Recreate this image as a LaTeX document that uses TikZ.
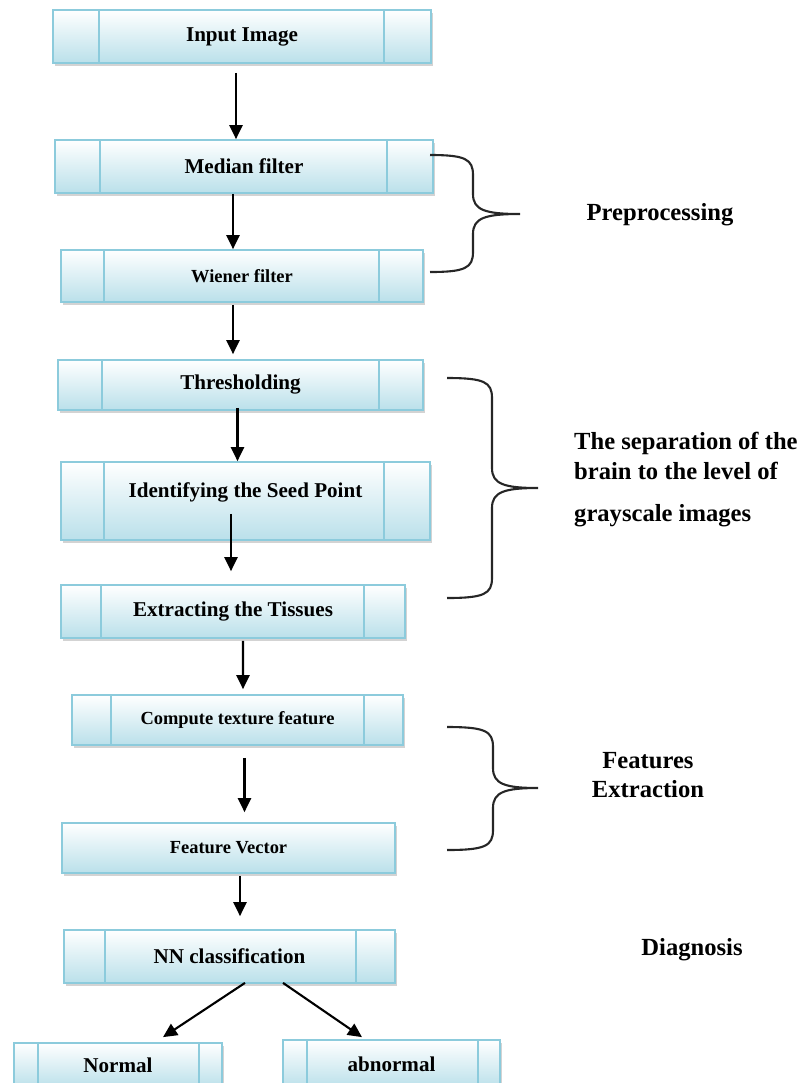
\documentclass[tikz,border=0pt]{standalone}
\usepackage{fontspec}
\setmainfont{Liberation Serif}
\usepackage{xcolor}
\usepackage{tikz}
\usetikzlibrary{arrows.meta, calc, shadows}

\definecolor{boxline}{RGB}{140,203,220}
\definecolor{boxfill}{RGB}{186,224,234}

\tikzset{
  procbox/.style={draw=boxline, line width=1pt, inner sep=0pt,
    top color=white, bottom color=boxfill,
    drop shadow={shadow xshift=1.3pt, shadow yshift=-1.5pt, opacity=.35},
    font=\fontsize{12}{14}\selectfont\bfseries},
  smalltext/.style={font=\fontsize{10.5}{12}\selectfont\bfseries},
  flow/.style={-{Triangle[length=8pt,width=7.5pt]}, line width=1.2pt},
  bracket/.style={line width=1.2pt, black!85},
  note/.style={font=\fontsize{14}{17}\selectfont\bfseries}
}

\begin{document}
\begin{tikzpicture}[x=0.02cm, y=-0.02cm]

        \useasboundingbox (0,0) rectangle (805,1083);

        % process chain
        \node[procbox, minimum width=7.56cm, minimum height=1.06cm] (inp) at (242,36.5) {Input Image};
        \node[procbox, minimum width=7.56cm, minimum height=1.06cm] (med) at (244,166.5) {Median filter};
        \node[procbox, smalltext, minimum width=7.24cm, minimum height=1.04cm] (wie) at (242,276) {Wiener filter};
        \node[procbox, minimum width=7.30cm, minimum height=1.00cm] (thr) at (240.5,385) {Thresholding};
        \node[procbox, minimum width=7.38cm, minimum height=1.56cm, text depth=0.45cm] (seed) at (245.5,501) {Identifying the Seed Point};
        \node[procbox, minimum width=6.88cm, minimum height=1.06cm] (tis) at (233,611.5) {Extracting the Tissues};
        \node[procbox, smalltext, minimum width=6.62cm, minimum height=1.00cm] (comp) at (237.5,720) {Compute texture feature};
        \node[procbox, smalltext, minimum width=6.66cm, minimum height=1.00cm] (fv) at (228.5,848) {Feature Vector};
        \node[procbox, minimum width=6.62cm, minimum height=1.06cm] (nn) at (229.5,956.5) {NN classification};
        \node[procbox, minimum width=4.16cm, minimum height=0.90cm] (nor) at (118,1065.5) {Normal};
        \node[procbox, minimum width=4.34cm, minimum height=0.96cm] (abn) at (391.5,1064) {abnormal};

        % side bars of the boxes
        \foreach \n/\l/\r in {inp/47/48, med/46/47, wie/44/45, thr/45/45, seed/44/47,
                              tis/41/42, comp/40/40, nn/42/40, nor/25/24, abn/25/23}
            \draw[boxline, line width=1pt]
                ($(\n.north west)+(\l,0)$) -- ($(\n.south west)+(\l,0)$)
                ($(\n.north east)+(-\r,0)$) -- ($(\n.south east)+(-\r,0)$);

        % arrows
        \draw[flow] ($(inp.south)+(-6,9)$) -- ($(med.north)+(-8,0)$);
        \draw[flow] ($(med.south)+(-11,0)$) -- ($(wie.north)+(-9,0)$);
        \draw[flow] ($(wie.south)+(-9,2)$) -- ($(thr.north)+(-7.5,-5)$);
        \draw[flow] ($(thr.south)+(-3,-3)$) -- ($(seed.north)+(-8,0)$);
        \draw[flow] ($(seed.south)+(-14.5,-27)$) -- ($(tis.north)+(-2,-13)$);
        \draw[flow] ($(tis.south)+(10,2)$) -- ($(comp.north)+(5.5,-5)$);
        \draw[flow] ($(comp.south)+(7,12)$) -- ($(fv.north)+(16,-10)$);
        \draw[flow] ($(fv.south)+(11.5,2)$) -- ($(nn.north)+(10.5,-13)$);
        \draw[flow] ($(nn.south)+(15.5,-1)$) -- ($(nor.north)+(45,-5)$);
        \draw[flow] ($(nn.south)+(53.5,-1)$) -- ($(abn.north)+(-29.5,-2)$);

        % braces
        \foreach \xa/\ya/\ym/\yb/\xv/\xt in {430/155/214/272/473/520,
                                             447/378/488/598/492/538,
                                             447/727/788/850/493/538}
            \draw[bracket] (\xa,\ya) .. controls (\xv-8,\ya) and (\xv,\ya+4) .. (\xv,\ya+20)
                -- (\xv,\ym-20) .. controls (\xv,\ym-4) and (\xv+12,\ym) .. (\xt,\ym)
                .. controls (\xv+12,\ym) and (\xv,\ym+4) .. (\xv,\ym+20)
                -- (\xv,\yb-20) .. controls (\xv,\yb-4) and (\xv-8,\yb) .. (\xa,\yb);

        % stage names
        \node[note] (prep) at (660,215) {Preprocessing};
        \node[note, anchor=west, align=left] (sep) at (568,480)
            {The separation of the\\brain to the level of\\[7pt]grayscale images};
        \node[note, align=center] (feat) at (648,775) {Features\\Extraction};
        \node[note] (diag) at (692,950) {Diagnosis};

\end{tikzpicture}
\end{document}
